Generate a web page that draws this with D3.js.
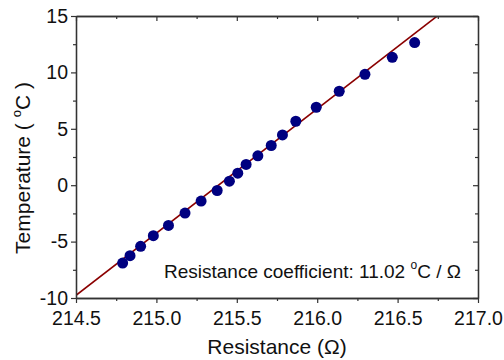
<!DOCTYPE html>
<html>
<head>
<meta charset="utf-8">
<script src="https://d3js.org/d3.v7.min.js"></script>
<style>
  body { margin: 0; background: #fff; }
  svg { display: block; font-family: "Liberation Sans", Arial, sans-serif; }
</style>
</head>
<body>
<div id="chart"></div>
<script>
const resistance = [214.79, 214.836, 214.902, 214.981, 215.075, 215.178, 215.278, 215.378, 215.454, 215.506,
                    215.558, 215.631, 215.714, 215.784, 215.867, 215.994, 216.137, 216.297, 216.467, 216.606];
const temperature = [-6.9, -6.25, -5.42, -4.48, -3.57, -2.47, -1.41, -0.47, 0.36, 1.07,
                     1.84, 2.6, 3.52, 4.46, 5.67, 6.91, 8.33, 9.83, 11.34, 12.64];

// linear fit
const fitSlope = 11.02;
const fitIntercept = -2373.55;

const xTicks = [214.5, 215.0, 215.5, 216.0, 216.5, 217.0];
const yTicks = [-10, -5, 0, 5, 10, 15];

const width = 504;
const height = 360;
const margin = { top: 16, right: 26, bottom: 62, left: 76 };

const svg = d3.select("#chart").append("svg")
    .attr("width", width)
    .attr("height", height);

const x = d3.scaleLinear()
    .domain([214.5, 217.0])
    .range([margin.left, width - margin.right]);

const y = d3.scaleLinear()
    .domain([-10, 15])
    .range([height - margin.bottom, margin.top]);

const xMinor = d3.range(214.75, 217, 0.5);
const yMinor = d3.range(-7.5, 15, 5);

const axisColor = "#333";

// clip for the fit line
svg.append("clipPath").attr("id", "plotClip")
    .append("rect")
    .attr("x", margin.left)
    .attr("y", margin.top)
    .attr("width", width - margin.left - margin.right)
    .attr("height", height - margin.top - margin.bottom);

// fit line
const fitX = [214.5, 217.0];
svg.append("line")
    .attr("clip-path", "url(#plotClip)")
    .attr("x1", x(fitX[0]))
    .attr("y1", y(fitSlope * fitX[0] + fitIntercept))
    .attr("x2", x(fitX[1]))
    .attr("y2", y(fitSlope * fitX[1] + fitIntercept))
    .attr("stroke", "#8b0000")
    .attr("stroke-width", 1.6);

// points
svg.selectAll("circle.pt")
    .data(resistance)
    .enter().append("circle")
    .attr("class", "pt")
    .attr("cx", d => x(d))
    .attr("cy", (d, i) => y(temperature[i]))
    .attr("r", 5.5)
    .attr("fill", "#000080");

// axes
function styleAxis(g) {
    g.select(".domain").attr("stroke", axisColor).attr("stroke-width", 1.3);
    g.selectAll(".tick line").attr("stroke", axisColor).attr("stroke-width", 1.2);
}

// bottom
svg.append("g")
    .attr("transform", `translate(0,${y(-10)})`)
    .call(d3.axisBottom(x).tickValues(xTicks).tickFormat(d3.format(".1f")).tickSize(5).tickSizeOuter(0).tickPadding(8))
    .call(styleAxis)
    .call(g => g.selectAll("text").attr("fill", "#111").style("font-size", "19.5px"));
svg.append("g")
    .attr("transform", `translate(0,${y(-10)})`)
    .call(d3.axisBottom(x).tickValues(xMinor).tickFormat("").tickSize(3).tickSizeOuter(0))
    .call(styleAxis);

// left
svg.append("g")
    .attr("transform", `translate(${x(214.5)},0)`)
    .call(d3.axisLeft(y).tickValues(yTicks).tickFormat(d => String(d)).tickSize(5).tickSizeOuter(0).tickPadding(3))
    .call(styleAxis)
    .call(g => g.selectAll("text").attr("fill", "#111").style("font-size", "19.5px"));
svg.append("g")
    .attr("transform", `translate(${x(214.5)},0)`)
    .call(d3.axisLeft(y).tickValues(yMinor).tickFormat("").tickSize(3).tickSizeOuter(0))
    .call(styleAxis);

// top (ticks inward)
svg.append("g")
    .attr("transform", `translate(0,${y(15)})`)
    .call(d3.axisBottom(x).tickValues(xTicks).tickFormat("").tickSize(5).tickSizeOuter(0))
    .call(styleAxis);
svg.append("g")
    .attr("transform", `translate(0,${y(15)})`)
    .call(d3.axisBottom(x).tickValues(xMinor).tickFormat("").tickSize(3).tickSizeOuter(0))
    .call(styleAxis);

// right (ticks inward)
svg.append("g")
    .attr("transform", `translate(${x(217)},0)`)
    .call(d3.axisLeft(y).tickValues(yTicks).tickFormat("").tickSize(5).tickSizeOuter(0))
    .call(styleAxis);
svg.append("g")
    .attr("transform", `translate(${x(217)},0)`)
    .call(d3.axisLeft(y).tickValues(yMinor).tickFormat("").tickSize(3).tickSizeOuter(0))
    .call(styleAxis);

// x title
svg.append("text")
    .attr("x", (x(214.5) + x(217)) / 2)
    .attr("y", 354)
    .attr("text-anchor", "middle")
    .attr("fill", "#111")
    .style("font-size", "21px")
    .text("Resistance (\u03A9)");

// y title
const yTitle = svg.append("text")
    .attr("transform", "translate(30,168) rotate(-90)")
    .attr("text-anchor", "middle")
    .attr("fill", "#111")
    .style("font-size", "21px");
yTitle.append("tspan").text("Temperature ( ");
yTitle.append("tspan").attr("dy", -9).style("font-size", "13px").text("o");
yTitle.append("tspan").attr("dy", 9).text("C )");

// annotation
const note = svg.append("text")
    .attr("x", 164)
    .attr("y", 278)
    .attr("fill", "#111")
    .style("font-size", "19px");
note.append("tspan").text("Resistance coefficient: 11.02 ");
note.append("tspan").attr("dy", -9).style("font-size", "12px").text("o");
note.append("tspan").attr("dy", 9).text("C / \u03A9");
</script>
</body>
</html>
